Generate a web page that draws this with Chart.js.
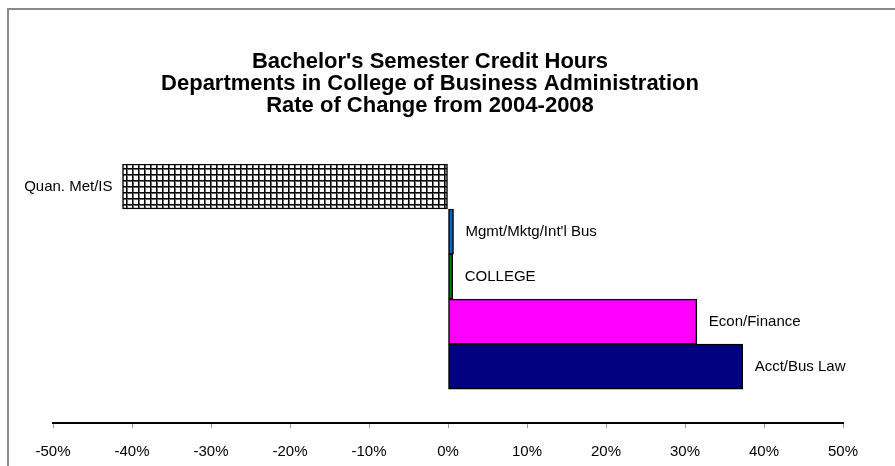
<!DOCTYPE html>
<html>
<head>
<meta charset="utf-8">
<script src="https://cdn.jsdelivr.net/npm/chart.js@4/dist/chart.umd.min.js"></script>
<style>
  html, body { margin: 0; padding: 0; background: #fff; }
  #wrap { width: 895px; height: 466px; position: relative; }
</style>
</head>
<body>
<div id="wrap"><canvas id="c" width="895" height="466"></canvas></div>
<script>
// ---- data ----
const categories = ["Quan. Met/IS", "Mgmt/Mktg/Int'l Bus", "COLLEGE", "Econ/Finance", "Acct/Bus Law"];
const changePct = [-41.2, 0.7, 0.6, 31.5, 37.3];
const barColors = ["hatch", "#0066cc", "#008000", "#ff00ff", "#000080"];
const titleLines = ["Bachelor's Semester Credit Hours", "Departments in College of Business Administration", "Rate of Change from 2004-2008"];
const xTickValues = [-50, -40, -30, -20, -10, 0, 10, 20, 30, 40, 50];

// hatch pattern
function makeHatch() {
  const p = document.createElement('canvas');
  p.width = 6; p.height = 6;
  const g = p.getContext('2d');
  g.fillStyle = '#ffffff'; g.fillRect(0, 0, 6, 6);
  g.fillStyle = '#666666'; g.fillRect(0, 1, 6, 1); g.fillRect(1, 0, 1, 6);
  g.fillStyle = '#000000'; g.fillRect(0, 0, 6, 1); g.fillRect(0, 0, 1, 6);
  return g.createPattern(p, 'repeat');
}
const ctx0 = document.getElementById('c').getContext('2d');
const hatch = makeHatch();
const fills = barColors.map(c => c === 'hatch' ? hatch : c);

const FONT = '"Liberation Sans", Arial, sans-serif';

const framePlugin = {
  id: 'frame',
  beforeDraw(chart) {
    const c = chart.ctx;
    c.save();
    c.fillStyle = '#fff';
    c.fillRect(0, 0, chart.width, chart.height);
    c.strokeStyle = '#8a8a8a';
    c.lineWidth = 2;
    c.strokeRect(8, 9, chart.width + 20, chart.height + 20);
    c.restore();
  },
  afterDraw(chart) {
    const c = chart.ctx;
    c.save();
    c.fillStyle = '#000';
    c.font = 'bold 22px ' + FONT;
    c.textAlign = 'center';
    c.textBaseline = 'middle';
    titleLines.forEach((t, i) => c.fillText(t, 430, 62 + i * 22));
    // category labels next to bars
    const meta = chart.getDatasetMeta(0);
    c.font = '15px ' + FONT;
    meta.data.forEach((bar, i) => {
      const v = changePct[i];
      if (v < 0) {
        c.textAlign = 'right';
        c.fillText(categories[i], bar.x - 10, bar.y);
      } else {
        c.textAlign = 'left';
        c.fillText(categories[i], bar.x + 12, bar.y);
      }
    });
    c.restore();
  }
};

new Chart(ctx0, {
  type: 'bar',
  data: {
    datasets: [{
      data: changePct.map((v, i) => ({ x: v, y: i })),
      backgroundColor: fills,
      borderColor: '#000',
      borderWidth: 1.5,
      borderSkipped: false,
      categoryPercentage: 1,
      barPercentage: 1
    }]
  },
  plugins: [framePlugin],
  options: {
    indexAxis: 'y',
    responsive: false,
    animation: false,
    events: [],
    layout: { padding: { left: 53, right: 52, top: 164, bottom: -10 } },
    plugins: { legend: { display: false }, tooltip: { enabled: false }, title: { display: false } },
    scales: {
      y: {
        type: 'linear',
        reverse: true,
        offset: false,
        bounds: 'data',
        min: -0.5,
        max: 5.25,
        afterDataLimits(scale) { scale.min = -0.5; scale.max = 5.25; },
        afterBuildTicks(scale) { scale.ticks = categories.map((_, i) => ({ value: i })); },
        grid: { offset: false },
        display: false
      },
      x: {
        type: 'linear',
        min: -50,
        max: 50,
        afterBuildTicks(scale) { scale.ticks = xTickValues.map(v => ({ value: v })); },
        grid: { drawOnChartArea: false, drawTicks: true, tickLength: 5, color: '#999', lineWidth: 1 },
        border: { display: true, color: '#000', width: 2 },
        ticks: {
          color: '#000',
          padding: 15,
          font: { size: 15, family: FONT },
          maxRotation: 0,
          callback: v => v + '%'
        }
      }
    }
  }
});
</script>
</body>
</html>
